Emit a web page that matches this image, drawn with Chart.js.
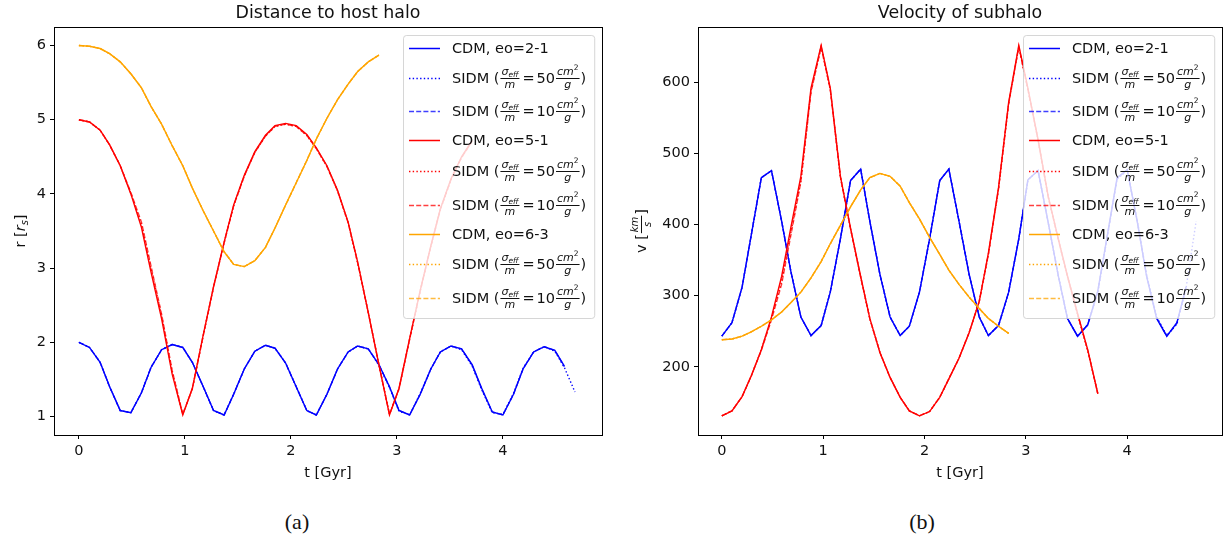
<!DOCTYPE html>
<html>
<head>
<meta charset="utf-8">
<script src="https://cdn.jsdelivr.net/npm/chart.js@4.4.1/dist/chart.umd.min.js"></script>
<style>
  body { margin: 0; background: #fff; width: 1228px; height: 544px; overflow: hidden; position: relative; }
  .panel { position: absolute; top: 0; width: 614px; height: 490px; }
  #left { left: 0; }
  #right { left: 614px; }
  .caption { position: absolute; top: 511px; line-height: 22px; font-family: "Liberation Serif", "DejaVu Serif", serif; font-size: 22px; color: #111; transform: translateX(-50%); }
</style>
</head>
<body>
<div class="panel" id="left"><canvas id="distChart" width="614" height="490"></canvas></div>
<div class="panel" id="right"><canvas id="velChart" width="614" height="490"></canvas></div>
<div class="caption" style="left:297px">(a)</div>
<div class="caption" style="left:922px">(b)</div>

<script>
// --- time grid (Gyr) ---
const tGyr = [
  0.00, 0.10, 0.20, 0.29, 0.39, 0.49, 0.59, 0.68, 0.78, 0.88,
  0.98, 1.07, 1.17, 1.27, 1.37, 1.46, 1.56, 1.66, 1.76, 1.85,
  1.95, 2.05, 2.15, 2.24, 2.34, 2.44, 2.54, 2.63, 2.73, 2.83,
  2.93, 3.02, 3.12, 3.22, 3.32, 3.41, 3.51, 3.61, 3.71, 3.80,
  3.90, 4.00, 4.10, 4.19, 4.29, 4.39, 4.49, 4.58, 4.68
];

// --- distance to host halo, r [r_s] ---
const rCdm21 = [
  2.00, 1.93, 1.73, 1.40, 1.08, 1.05, 1.32, 1.66, 1.90, 1.97,
  1.93, 1.73, 1.41, 1.08, 1.02, 1.30, 1.64, 1.88, 1.96, 1.92,
  1.72, 1.40, 1.08, 1.02, 1.30, 1.64, 1.87, 1.95, 1.91, 1.70,
  1.40, 1.08, 1.02, 1.30, 1.64, 1.87, 1.95, 1.91, 1.70, 1.38,
  1.06, 1.02, 1.30, 1.64, 1.87, 1.94, 1.89, 1.68
];
const rSidm50_21 = [
  2.00, 1.93, 1.73, 1.40, 1.08, 1.05, 1.32, 1.66, 1.90, 1.97,
  1.93, 1.73, 1.41, 1.08, 1.02, 1.30, 1.64, 1.88, 1.96, 1.92,
  1.72, 1.40, 1.08, 1.02, 1.30, 1.64, 1.87, 1.95, 1.91, 1.69,
  1.39, 1.07, 1.02, 1.31, 1.64, 1.87, 1.95, 1.90, 1.68, 1.36,
  1.05, 1.03, 1.31, 1.65, 1.87, 1.94, 1.88, 1.66, 1.33
];
const rSidm10_21 = [
  2.00, 1.93, 1.73, 1.40, 1.08, 1.05, 1.32, 1.66, 1.90, 1.97,
  1.93, 1.73, 1.41, 1.08, 1.02, 1.30, 1.64, 1.88, 1.96, 1.92,
  1.72, 1.40, 1.08, 1.02, 1.30, 1.64, 1.87, 1.95, 1.91, 1.70,
  1.40, 1.08, 1.02, 1.30, 1.64, 1.87, 1.95, 1.91, 1.69, 1.37,
  1.06, 1.02, 1.30, 1.64, 1.87, 1.94, 1.89, 1.67
];
const rCdm51 = [
  5.00, 4.97, 4.86, 4.66, 4.38, 4.00, 3.55, 2.95, 2.32, 1.57,
  1.02, 1.38, 2.08, 2.75, 3.35, 3.85, 4.25, 4.57, 4.79, 4.92,
  4.95, 4.92, 4.80, 4.62, 4.38, 4.05, 3.62, 3.08, 2.40, 1.70,
  1.02, 1.38, 2.05, 2.70, 3.30, 3.80, 4.20, 4.50, 4.72
];
const rSidm50_51 = [
  5.00, 4.97, 4.86, 4.66, 4.38, 4.01, 3.59, 3.00, 2.36, 1.60,
  1.03, 1.37, 2.07, 2.74, 3.34, 3.84, 4.24, 4.56, 4.78, 4.91,
  4.94, 4.91, 4.79, 4.61, 4.37, 4.04, 3.61, 3.07, 2.40, 1.70,
  1.03, 1.37, 2.04, 2.69, 3.29, 3.79, 4.19, 4.49, 4.71
];
const rSidm10_51 = [
  5.00, 4.97, 4.86, 4.66, 4.38, 4.02, 3.62, 3.03, 2.38, 1.62,
  1.03, 1.37, 2.07, 2.74, 3.34, 3.84, 4.24, 4.56, 4.78, 4.91,
  4.94, 4.91, 4.79, 4.61, 4.37, 4.04, 3.61, 3.07, 2.40, 1.70,
  1.03, 1.37, 2.04, 2.69, 3.29, 3.79, 4.19, 4.49, 4.71
];
const rCdm63 = [
  6.00, 5.99, 5.96, 5.89, 5.78, 5.62, 5.43, 5.18, 4.94, 4.65,
  4.38, 4.08, 3.78, 3.50, 3.22, 3.05, 3.02, 3.10, 3.28, 3.54,
  3.85, 4.15, 4.45, 4.74, 5.02, 5.27, 5.48, 5.65, 5.78, 5.87
];
const rSidm50_63 = rCdm63.slice();
const rSidm10_63 = rCdm63.slice();

// --- subhalo velocity, v [km/s] ---
const vCdm21 = [
  243, 262, 312, 385, 466, 476, 405, 335, 270, 244,
  258, 305, 380, 462, 478, 405, 330, 270, 244, 257,
  305, 380, 462, 478, 405, 330, 270, 244, 258, 305,
  380, 463, 476, 403, 328, 268, 243, 259, 307, 382,
  466, 477, 403, 328, 268, 243, 262, 312
];
const vSidm50_21 = [
  243, 262, 312, 385, 466, 476, 405, 335, 270, 244,
  258, 305, 380, 462, 478, 405, 330, 270, 244, 257,
  305, 380, 462, 478, 405, 330, 270, 244, 258, 305,
  380, 463, 476, 403, 328, 268, 243, 259, 305, 380,
  464, 476, 405, 330, 270, 244, 260, 310, 405
];
const vSidm10_21 = [
  243, 262, 312, 385, 466, 476, 405, 335, 270, 244,
  258, 305, 380, 462, 478, 405, 330, 270, 244, 257,
  305, 380, 462, 478, 405, 330, 270, 244, 258, 305,
  380, 463, 476, 403, 328, 268, 243, 259, 306, 381,
  465, 477, 404, 329, 269, 243, 261, 311
];
const vCdm51 = [
  131, 138, 158, 187, 224, 270, 327, 395, 468, 592,
  652, 592, 468, 395, 327, 268, 220, 185, 157, 138,
  131, 137, 157, 183, 212, 248, 292, 360, 452, 572,
  652, 592, 520, 440, 380, 328, 275, 224, 162
];
const vSidm50_51 = [
  131, 138, 158, 187, 224, 268, 320, 388, 462, 588,
  650, 590, 467, 394, 326, 268, 220, 185, 157, 138,
  131, 137, 157, 183, 212, 248, 292, 358, 450, 570,
  650, 590, 519, 439, 379, 327, 274, 223, 162
];
const vSidm10_51 = [
  131, 138, 158, 187, 223, 266, 316, 384, 460, 586,
  650, 590, 467, 394, 326, 268, 220, 185, 157, 138,
  131, 137, 157, 183, 212, 248, 292, 358, 450, 570,
  650, 590, 519, 439, 379, 327, 274, 223, 162
];
const vCdm63 = [
  238, 239, 243, 249, 257, 266, 277, 290, 305, 325,
  348, 373, 399, 425, 449, 466, 472, 468, 454, 431,
  408, 382, 358, 336, 316, 298, 282, 268, 257, 247
];
const vSidm50_63 = vCdm63.slice();
const vSidm10_63 = vCdm63.slice();

// --- labels and ticks ---
const orbitLabels = ["eo=2-1", "eo=5-1", "eo=6-3"];
const crossSections = [50, 10];
const xTicks = [0, 1, 2, 3, 4];
const rTicks = [1, 2, 3, 4, 5, 6];
const vTicks = [200, 300, 400, 500, 600];

const orbitColors = ["#0000ff", "#ff0000", "#ffa500"];
const FACE = "'DejaVu Sans', sans-serif";
const FS = 14.5;
const INK = "#111";
const DOTTED = [1.4, 2.3];
const DASHED = [5, 2.2];

const font = (size, italic) => (italic ? "italic " : "") + size + "px " + FACE;

// one dataset per line; CDM solid, SIDM dotted (50) / dashed (10)
function lineSet(values, color, dash) {
  return {
    data: values.map((y, i) => ({ x: tGyr[i], y: y })),
    borderColor: color,
    borderDash: dash,
    borderWidth: 1.4,
    pointRadius: 0,
    tension: 0,
    fill: false,
  };
}

function buildDatasets(groups) {
  const sets = [];
  groups.forEach((g, k) => {
    const c = orbitColors[k];
    sets.push(lineSet(g[0], c, []));
    sets.push(lineSet(g[1], c, DOTTED));
    sets.push(lineSet(g[2], c + "c0", DASHED));
  });
  // later series drawn on top
  sets.forEach((s, i) => { s.order = sets.length - i; });
  return sets;
}

function legendEntries() {
  const out = [];
  orbitLabels.forEach((lab, k) => {
    out.push({ text: "CDM, " + lab, color: orbitColors[k], dash: [] });
    out.push({ sigma: crossSections[0], color: orbitColors[k], dash: DOTTED });
    out.push({ sigma: crossSections[1], color: orbitColors[k] + "c0", dash: DASHED });
  });
  return out;
}

// --- little math-text helpers ---
function runWidth(ctx, parts) {
  let w = 0;
  for (const p of parts) { ctx.font = font(p.size, p.it); w += ctx.measureText(p.t).width; }
  return w;
}
function drawRun(ctx, x, y, parts) {
  for (const p of parts) {
    ctx.font = font(p.size, p.it);
    ctx.fillText(p.t, x, y + (p.dy || 0));
    x += ctx.measureText(p.t).width;
  }
  return x;
}
// horizontal fraction centred on the math axis cy
function drawFrac(ctx, x, cy, num, den, draw) {
  const wn = runWidth(ctx, num), wd = runWidth(ctx, den);
  const w = Math.max(wn, wd) + 2;
  if (draw) {
    drawRun(ctx, x + 1 + (w - wn) / 2, cy - 3.5, num);
    drawRun(ctx, x + 1 + (w - wd) / 2, cy + 10, den);
    ctx.fillRect(x + 1, cy, w, 1);
  }
  return w + 2;
}

function sidmLabel(ctx, x, cy, sigma, draw) {
  let cx = x;
  const bl = cy + 5.3;
  ctx.textBaseline = "alphabetic";
  ctx.textAlign = "left";
  const seg = (t) => { ctx.font = font(FS); if (draw) ctx.fillText(t, cx, bl); cx += ctx.measureText(t).width; };
  seg("SIDM (");
  cx += drawFrac(ctx, cx, cy,
    [{ t: "σ", size: 11, it: true }, { t: "eff", size: 7.5, it: true, dy: 2 }],
    [{ t: "m", size: 11, it: true }], draw);
  cx += 2; seg("="); cx += 2;
  seg(String(sigma));
  cx += drawFrac(ctx, cx, cy,
    [{ t: "cm", size: 11, it: true }, { t: "2", size: 7.5, dy: -4.5 }],
    [{ t: "g", size: 11, it: true }], draw);
  seg(")");
  return cx - x;
}

const legendRows = [13, 43, 76, 105, 136, 170, 199, 229, 263];

function drawLegend(chart) {
  const ctx = chart.ctx, a = chart.chartArea;
  const entries = legendEntries();
  ctx.save();
  const widths = entries.map(e => {
    if (e.sigma) return sidmLabel(ctx, 0, 0, e.sigma, false);
    ctx.font = font(FS);
    return ctx.measureText(e.text).width;
  });
  const w = 49 + Math.max(...widths) + 8, h = 283;
  const x0 = Math.round(a.right - 8 - w), y0 = Math.round(a.top + 8);
  ctx.beginPath();
  ctx.roundRect(x0 + 0.5, y0 + 0.5, w, h, 3);
  ctx.fillStyle = "rgba(255,255,255,0.8)";
  ctx.fill();
  ctx.strokeStyle = "rgba(204,204,204,0.8)";
  ctx.lineWidth = 1;
  ctx.stroke();

  entries.forEach((e, i) => {
    const cy = y0 + legendRows[i];
    ctx.beginPath();
    ctx.strokeStyle = e.color;
    ctx.lineWidth = 1.5;
    ctx.setLineDash(e.dash);
    ctx.moveTo(x0 + 6, cy + 0.5);
    ctx.lineTo(x0 + 37, cy + 0.5);
    ctx.stroke();
    ctx.setLineDash([]);
    ctx.fillStyle = INK;
    if (e.sigma) {
      sidmLabel(ctx, x0 + 49, cy, e.sigma, true);
    } else {
      ctx.font = font(FS);
      ctx.textAlign = "left";
      ctx.textBaseline = "alphabetic";
      ctx.fillText(e.text, x0 + 49, cy + 5.3);
    }
  });
  ctx.restore();
}

// y label "r [r_s]"
function drawRLabel(ctx) {
  const parts = [
    { t: "r [", size: FS }, { t: "r", size: FS, it: true },
    { t: "s", size: 10, it: true, dy: 3 }, { t: "]", size: FS }
  ];
  drawRun(ctx, -runWidth(ctx, parts) / 2, 5.3, parts);
}
// y label "v [km/s]"
function drawVLabel(ctx) {
  ctx.font = font(FS);
  const w1 = ctx.measureText("v [").width;
  const num = [{ t: "km", size: 10, it: true }], den = [{ t: "s", size: 10, it: true }];
  const wf = Math.max(runWidth(ctx, num), runWidth(ctx, den)) + 4;
  ctx.font = font(FS);
  const w2 = ctx.measureText("]").width;
  let x = -(w1 + wf + w2) / 2;
  ctx.font = font(FS);
  ctx.fillText("v [", x, 5.3);
  x += w1;
  x += drawFrac(ctx, x, 0, num, den, true);
  ctx.font = font(FS);
  ctx.fillText("]", x, 5.3);
}

const deco = {
  id: "deco",
  afterDatasetsDraw(chart, args, opts) {
    const ctx = chart.ctx, a = chart.chartArea;
    ctx.save();
    // axes frame
    ctx.strokeStyle = "#000";
    ctx.lineWidth = 1;
    ctx.strokeRect(a.left + 0.5, a.top + 0.5, a.right - a.left, a.bottom - a.top);
    // title over the axes
    ctx.fillStyle = INK;
    ctx.font = font(17.4);
    ctx.textAlign = "center";
    ctx.textBaseline = "middle";
    ctx.fillText(opts.title, (a.left + a.right) / 2, 13);
    // rotated y label
    ctx.translate(opts.yLabelX, (a.top + a.bottom) / 2);
    ctx.rotate(-Math.PI / 2);
    ctx.textAlign = "left";
    ctx.textBaseline = "alphabetic";
    if (opts.yLabel === "r") drawRLabel(ctx); else drawVLabel(ctx);
    ctx.restore();
    drawLegend(chart);
  }
};

function makeChart(id, groups, yMin, yMax, yTicks, yWidth, padRight, title, yLabel, yLabelX) {
  return new Chart(document.getElementById(id), {
    type: "line",
    data: { datasets: buildDatasets(groups) },
    plugins: [deco],
    options: {
      responsive: false,
      animation: false,
      events: [],
      layout: { padding: { top: 27, right: padRight, bottom: 0, left: 0 } },
      plugins: {
        legend: { display: false },
        tooltip: { enabled: false },
        deco: { title: title, yLabel: yLabel, yLabelX: yLabelX },
      },
      scales: {
        x: {
          type: "linear",
          min: -0.235,
          max: 4.935,
          afterBuildTicks: s => { s.ticks = xTicks.map(v => ({ value: v })); },
          afterFit: s => { s.height = 55; },
          grid: { drawOnChartArea: false, drawTicks: true, tickLength: 4, color: "#000" },
          border: { display: false },
          ticks: { color: INK, font: { family: FACE, size: FS }, padding: 4, maxRotation: 0, callback: v => String(v) },
          title: { display: true, text: "t [Gyr]", color: INK, font: { family: FACE, size: FS }, padding: { top: 0, bottom: 8.3 } },
        },
        y: {
          type: "linear",
          min: yMin,
          max: yMax,
          afterBuildTicks: s => { s.ticks = yTicks.map(v => ({ value: v })); },
          afterFit: s => { s.width = yWidth; },
          grid: { drawOnChartArea: false, drawTicks: true, tickLength: 4, color: "#000" },
          border: { display: false },
          ticks: { color: INK, font: { family: FACE, size: FS }, padding: 4, callback: v => String(v) },
        },
      },
    },
  });
}

makeChart("distChart",
  [[rCdm21, rSidm50_21, rSidm10_21], [rCdm51, rSidm50_51, rSidm10_51], [rCdm63, rSidm50_63, rSidm10_63]],
  0.75, 6.25, rTicks, 54, 12, "Distance to host halo", "r", 20);

makeChart("velChart",
  [[vCdm21, vSidm50_21, vSidm10_21], [vCdm51, vSidm50_51, vSidm10_51], [vCdm63, vSidm50_63, vSidm10_63]],
  104, 678, vTicks, 84, 6, "Velocity of subhalo", "v", 27);
</script>
</body>
</html>
